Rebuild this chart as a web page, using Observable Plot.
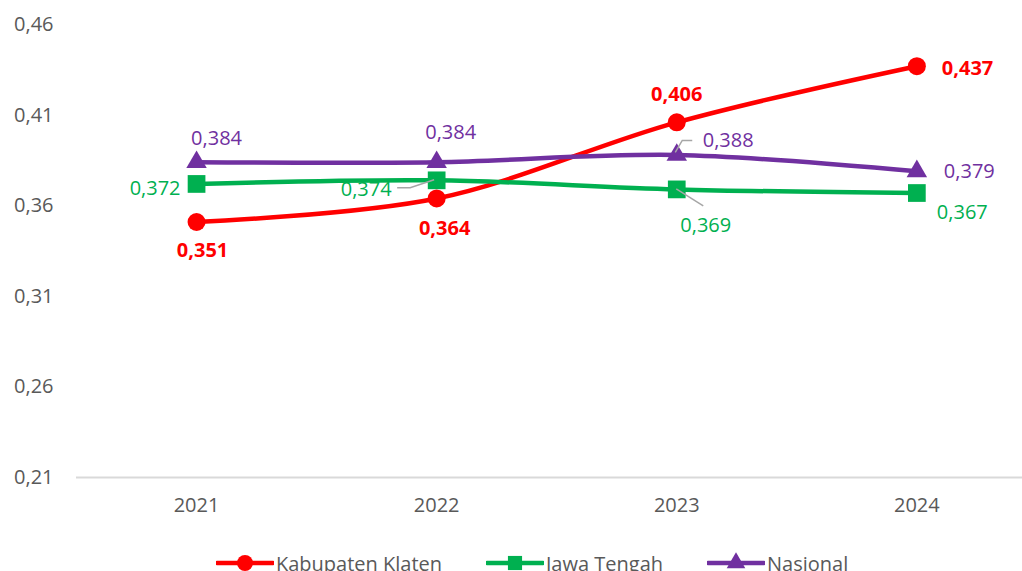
<!DOCTYPE html>
<html>
<head>
<meta charset="utf-8">
<script src="https://cdn.jsdelivr.net/npm/d3@7"></script>
<script src="https://cdn.jsdelivr.net/npm/@observablehq/plot@0.6"></script>
<style>
  body { margin: 0; background: #fff; font-family: "Open Sans", sans-serif; }
  #legend { position: relative; height: 41px; overflow: visible; }
  .item { position: absolute; top: 0; height: 66px; display: flex; align-items: center; font-size: 20px; color: #595959; white-space: nowrap; }
  .item svg { display: block; margin-right: 2px; }
</style>
</head>
<body>
<div id="chart"></div>
<div id="legend"></div>
<script>
// ---- data ----
const years = [2021, 2022, 2023, 2024];
const klaten = [0.351, 0.364, 0.406, 0.437];
const jateng = [0.372, 0.374, 0.369, 0.367];
const nasional = [0.384, 0.384, 0.388, 0.379];
const seriesNames = ["Kabupaten Klaten", "Jawa Tengah", "Nasional"];
const yTicks = [0.21, 0.26, 0.31, 0.36, 0.41, 0.46];

// ---- styling ----
const colors = ["#FF0000", "#00B050", "#7030A0"];
const symbols = ["circle", "square", "triangle"];
const radii = [9, 10, 7.6];
const weights = ["bold", "normal", "normal"];
// label placement per series/point: [dx, dy, anchor]
const placement = [
  [[6, 29, "middle"], [8, 30, "middle"], [0, -28, "middle"], [25, 2, "start"]],
  [[-16, 5, "end"], [-45, 9, "end"], [29, 36, "middle"], [20, 20, "start"]],
  [[20, -24, "middle"], [14, -30, "middle"], [26, -14, "start"], [27, 0, "start"]]
];
// leader lines: [series, pointIndex, relative pixel path]
const leaders = [
  [1, 1, [[-2, 0], [-26, 8], [-39, 8]]],
  [1, 2, [[0, 0], [27, 17]]],
  [2, 2, [[-1, -2], [6, -14], [16, -14]]]
];

const seriesValues = [klaten, jateng, nasional];
const rows = seriesValues.flatMap((vals, s) =>
  vals.map((v, i) => ({series: seriesNames[s], s, i, year: years[i], value: v})));
const fmt = v => v.toFixed(3).replace(".", ",");

const marks = [
  Plot.ruleY([0.21], {stroke: "#D9D9D9", strokeWidth: 2})
];
seriesNames.forEach((name, s) => {
  const data = rows.filter(d => d.s === s);
  marks.push(Plot.line(data, {x: "year", y: "value", stroke: colors[s], strokeWidth: 4.5, curve: "catmull-rom"}));
});
seriesNames.forEach((name, s) => {
  const data = rows.filter(d => d.s === s);
  marks.push(Plot.dot(data, {x: "year", y: "value", fill: colors[s], stroke: "none", symbol: symbols[s], r: radii[s]}));
});
rows.forEach(d => {
  const [dx, dy, anchor] = placement[d.s][d.i];
  marks.push(Plot.text([d], {
    x: "year", y: "value", text: r => fmt(r.value), fill: colors[d.s],
    dx, dy, textAnchor: anchor, fontWeight: weights[d.s], fontSize: 20
  }));
});

const plot = Plot.plot({
  width: 1022,
  height: 530,
  marginLeft: 76,
  marginRight: 0,
  marginTop: 24,
  marginBottom: 53,
  style: {fontFamily: "'Open Sans', sans-serif", fontSize: "20px", color: "#595959", background: "#fff"},
  x: {type: "linear", domain: [2020.5, 2024.44], ticks: years, tickFormat: d => String(d), tickSize: 0, tickPadding: 20, label: null},
  y: {domain: [0.21, 0.46], ticks: yTicks, tickFormat: d => d.toFixed(2).replace(".", ","), tickSize: 0, tickPadding: 23, label: null},
  marks
});
document.getElementById("chart").appendChild(plot);

// leader lines via the plot's own scales
const sx = plot.scale("x"), sy = plot.scale("y");
const svg = d3.select(plot);
leaders.forEach(([s, i, path]) => {
  const px = sx.apply(years[i]), py = sy.apply(seriesValues[s][i]);
  svg.append("path")
    .attr("d", d3.line()(path.map(([a, b]) => [px + a, py + b])))
    .attr("fill", "none").attr("stroke", "#A6A6A6").attr("stroke-width", 1.5);
});

// legend
const legendLeft = [216, 486, 707];
const legend = d3.select("#legend");
seriesNames.forEach((name, s) => {
  const item = legend.append("div").attr("class", "item").style("left", legendLeft[s] + "px").style("top", "0px");
  const g = item.append("svg").attr("width", 58).attr("height", 22);
  g.append("line").attr("x1", 1).attr("x2", 57).attr("y1", 11).attr("y2", 11)
    .attr("stroke", colors[s]).attr("stroke-width", 4.5).attr("stroke-linecap", "round");
  g.append("path").attr("transform", "translate(29,11)")
    .attr("d", d3.symbol(s === 0 ? d3.symbolCircle : s === 1 ? d3.symbolSquare : d3.symbolTriangle, s === 0 ? 200 : s === 1 ? 200 : 150)())
    .attr("fill", colors[s]);
  item.append("span").text(name);
});
</script>
</body>
</html>
